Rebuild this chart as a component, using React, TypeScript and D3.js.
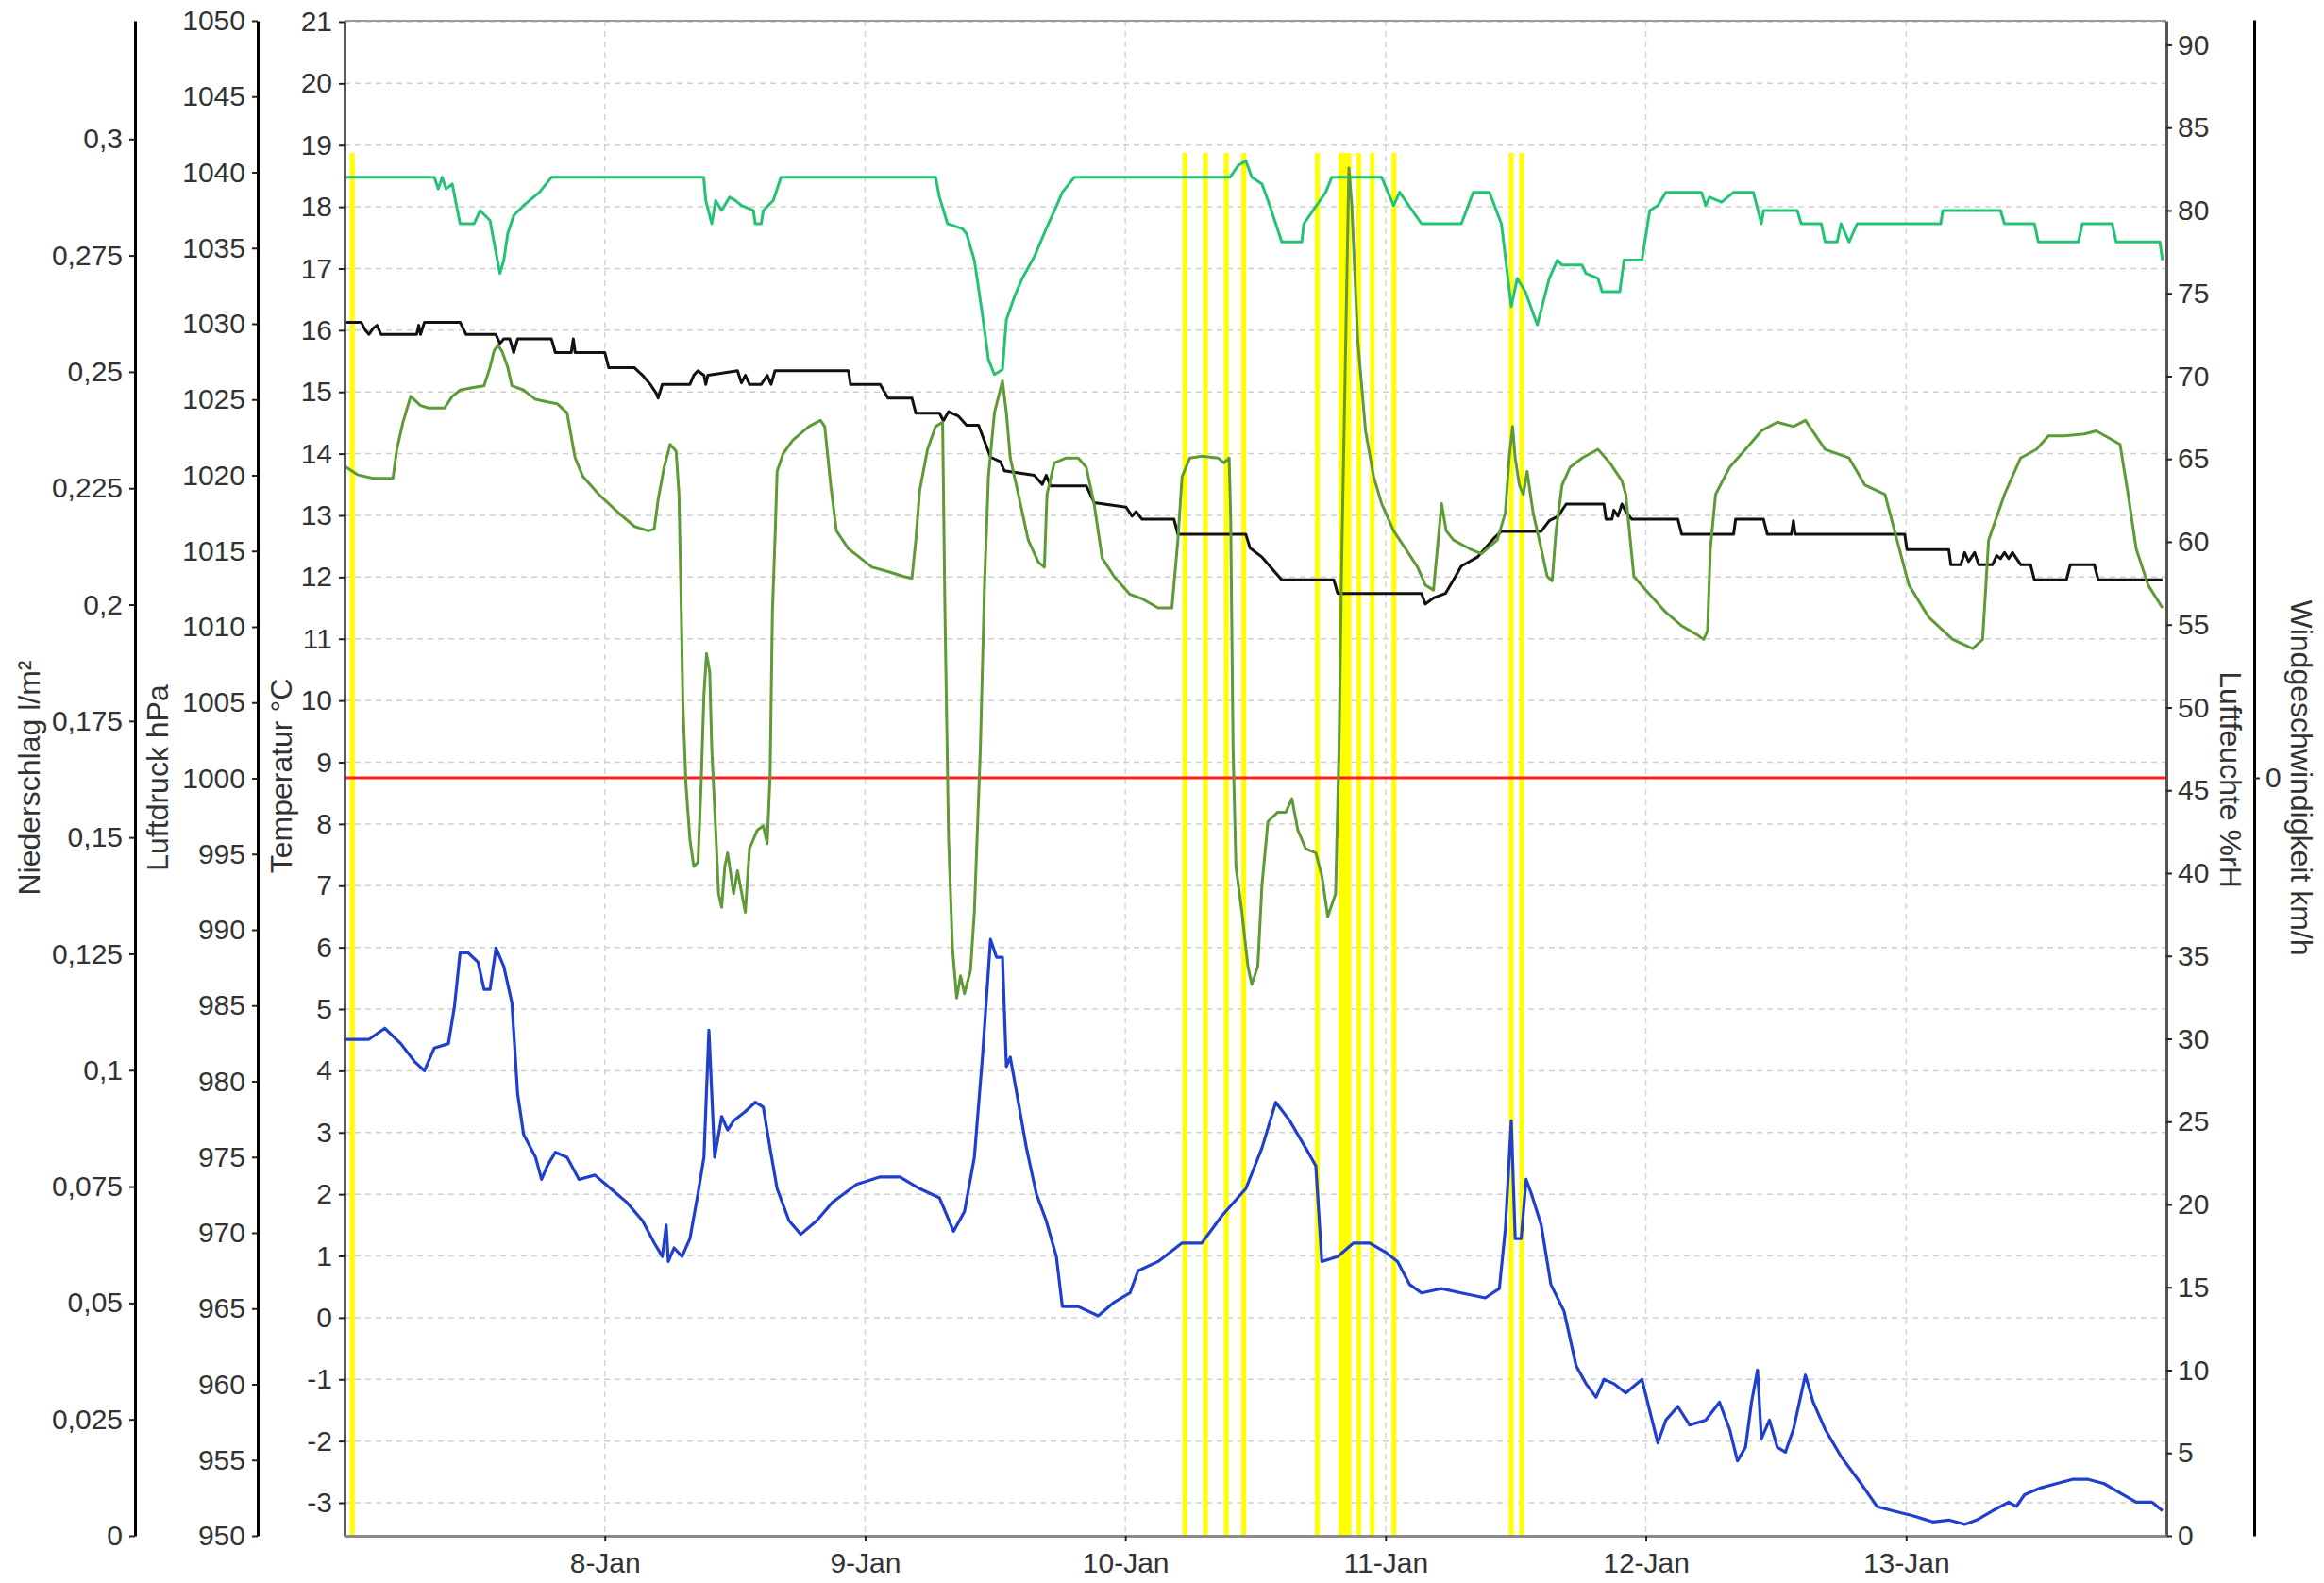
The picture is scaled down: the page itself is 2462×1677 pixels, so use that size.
import * as d3 from "d3";
import { useEffect, useRef } from "react";

// time origin: 7-Jan 00:00, every series is [day offset, value]
const START = new Date(2015, 0, 7).getTime();
const DAY = 86400000;
const SPAN_DAYS = 7;

// Luftfeuchte %rH (light green)
const humidity: [number, number][] = [
  [0, 82], [0.345, 82], [0.36, 81.3], [0.375, 82], [0.39, 81.3], [0.414, 81.6], [0.43, 80.3],
  [0.444, 79.2], [0.498, 79.2], [0.521, 80.0], [0.559, 79.4], [0.574, 78.1], [0.597, 76.2],
  [0.612, 77.0], [0.627, 78.6], [0.65, 79.7], [0.688, 80.3], [0.749, 81.1], [0.795, 82],
  [1.38, 82], [1.388, 80.6], [1.411, 79.2], [1.426, 80.6], [1.449, 80.0], [1.479, 80.8],
  [1.502, 80.6], [1.525, 80.3], [1.571, 80.0], [1.578, 79.2], [1.601, 79.2], [1.609, 80.0],
  [1.647, 80.6], [1.677, 82], [2.271, 82], [2.286, 80.8], [2.317, 79.2], [2.374, 78.9],
  [2.39, 78.6], [2.42, 77.0], [2.451, 73.7], [2.474, 71.0], [2.497, 70.1], [2.528, 70.4],
  [2.543, 73.4], [2.574, 74.8], [2.604, 75.9], [2.65, 77.2], [2.696, 78.9], [2.742, 80.5],
  [2.758, 81.1], [2.804, 82], [3.402, 82], [3.433, 82.7], [3.463, 83.0], [3.486, 82],
  [3.525, 81.6], [3.555, 80.3], [3.601, 78.1], [3.678, 78.1], [3.686, 79.2], [3.77, 81.1],
  [3.793, 82], [3.985, 82], [4.031, 80.3], [4.054, 81.1], [4.138, 79.2], [4.291, 79.2],
  [4.337, 81.1], [4.399, 81.1], [4.445, 79.2], [4.483, 74.2], [4.506, 75.9], [4.537, 75.1],
  [4.583, 73.1], [4.629, 75.9], [4.66, 77.0], [4.678, 76.7], [4.755, 76.7], [4.77, 76.2],
  [4.816, 75.9], [4.832, 75.1], [4.9, 75.1], [4.916, 77.0], [4.985, 77.0], [5.015, 80.0],
  [5.046, 80.3], [5.077, 81.1], [5.214, 81.1], [5.23, 80.3], [5.245, 80.8], [5.291, 80.5],
  [5.337, 81.1], [5.413, 81.1], [5.444, 79.2], [5.452, 80.0], [5.582, 80.0], [5.597, 79.2],
  [5.674, 79.2], [5.689, 78.1], [5.735, 78.1], [5.75, 79.2], [5.781, 78.1], [5.812, 79.2],
  [6.133, 79.2], [6.141, 80.0], [6.363, 80.0], [6.378, 79.2], [6.493, 79.2], [6.508, 78.1],
  [6.662, 78.1], [6.677, 79.2], [6.792, 79.2], [6.807, 78.1], [6.975, 78.1], [6.985, 77.0],
];

// Luftdruck hPa (black)
const pressure: [number, number][] = [
  [0, 1030.1], [0.064, 1030.1], [0.079, 1029.6], [0.094, 1029.3], [0.11, 1029.7], [0.125, 1029.9],
  [0.14, 1029.3], [0.277, 1029.3], [0.285, 1029.9], [0.292, 1029.3], [0.307, 1030.1], [0.444, 1030.1],
  [0.467, 1029.3], [0.581, 1029.3], [0.597, 1028.7], [0.612, 1029.0], [0.635, 1029.0], [0.65, 1028.1],
  [0.665, 1029.0], [0.795, 1029.0], [0.81, 1028.1], [0.871, 1028.1], [0.879, 1029.0], [0.886, 1028.1],
  [1.0, 1028.1], [1.015, 1027.1], [1.114, 1027.1], [1.145, 1026.6], [1.175, 1026.0], [1.198, 1025.4],
  [1.205, 1025.1], [1.221, 1026.0], [1.327, 1026.0], [1.342, 1026.6], [1.358, 1026.9], [1.373, 1026.7],
  [1.381, 1026.6], [1.388, 1026.0], [1.396, 1026.6], [1.51, 1026.9], [1.525, 1026.1], [1.54, 1026.6],
  [1.556, 1026.0], [1.601, 1026.0], [1.624, 1026.6], [1.639, 1026.0], [1.654, 1026.9], [1.936, 1026.9],
  [1.944, 1026.0], [2.058, 1026.0], [2.088, 1025.1], [2.18, 1025.1], [2.195, 1024.1], [2.286, 1024.1],
  [2.301, 1023.6], [2.321, 1024.2], [2.359, 1023.9], [2.39, 1023.3], [2.436, 1023.3], [2.482, 1021.2],
  [2.52, 1020.9], [2.535, 1020.3], [2.65, 1020.0], [2.681, 1019.4], [2.696, 1020.0], [2.712, 1019.3],
  [2.85, 1019.3], [2.88, 1018.2], [3.003, 1017.9], [3.026, 1017.3], [3.041, 1017.6], [3.064, 1017.1],
  [3.187, 1017.1], [3.202, 1016.1], [3.463, 1016.1], [3.479, 1015.2], [3.525, 1014.6], [3.555, 1014.0],
  [3.601, 1013.1], [3.801, 1013.1], [3.816, 1012.2], [4.138, 1012.2], [4.153, 1011.5], [4.184, 1011.9],
  [4.23, 1012.2], [4.261, 1013.1], [4.291, 1014.0], [4.353, 1014.6], [4.414, 1015.8], [4.445, 1016.3],
  [4.598, 1016.3], [4.629, 1017.0], [4.663, 1017.3], [4.694, 1018.1], [4.839, 1018.1], [4.847, 1017.1],
  [4.87, 1017.1], [4.877, 1017.7], [4.893, 1017.3], [4.908, 1018.1], [4.923, 1017.6], [4.946, 1017.1],
  [5.123, 1017.1], [5.138, 1016.1], [5.337, 1016.1], [5.345, 1017.1], [5.452, 1017.1], [5.467, 1016.1],
  [5.559, 1016.1], [5.567, 1017.0], [5.574, 1016.1], [5.995, 1016.1], [6.003, 1015.1], [6.164, 1015.1],
  [6.172, 1014.1], [6.21, 1014.1], [6.225, 1014.9], [6.24, 1014.3], [6.263, 1014.9], [6.279, 1014.1],
  [6.332, 1014.1], [6.348, 1014.7], [6.363, 1014.5], [6.378, 1014.9], [6.394, 1014.5], [6.409, 1014.9],
  [6.44, 1014.1], [6.478, 1014.1], [6.493, 1013.1], [6.616, 1013.1], [6.631, 1014.1], [6.723, 1014.1],
  [6.738, 1013.1], [6.985, 1013.1],
];

// Temperatur °C, inside sensor (olive)
const tempIndoor: [number, number][] = [
  [0, 13.8], [0.049, 13.66], [0.11, 13.6], [0.186, 13.6], [0.201, 14.07], [0.224, 14.5], [0.254, 14.93],
  [0.292, 14.78], [0.323, 14.74], [0.384, 14.74], [0.414, 14.93], [0.444, 15.03], [0.49, 15.07],
  [0.536, 15.1], [0.559, 15.4], [0.574, 15.66], [0.589, 15.76], [0.605, 15.66], [0.627, 15.4],
  [0.643, 15.1], [0.688, 15.03], [0.734, 14.88], [0.779, 14.84], [0.817, 14.81], [0.855, 14.66],
  [0.886, 13.93], [0.916, 13.63], [0.977, 13.34], [1.053, 13.04], [1.114, 12.82], [1.167, 12.75],
  [1.19, 12.78], [1.205, 13.26], [1.228, 13.78], [1.251, 14.15], [1.274, 14.04], [1.285, 13.34],
  [1.294, 11.43], [1.3, 9.96], [1.312, 8.63], [1.327, 7.75], [1.342, 7.31], [1.358, 7.38], [1.37, 8.63],
  [1.381, 10.1], [1.391, 10.76], [1.403, 10.47], [1.411, 9.22], [1.426, 7.9], [1.437, 6.87], [1.449, 6.65],
  [1.461, 7.31], [1.472, 7.53], [1.495, 6.87], [1.51, 7.24], [1.533, 6.72], [1.54, 6.57], [1.556, 7.6],
  [1.586, 7.9], [1.609, 7.97], [1.624, 7.68], [1.635, 8.78], [1.644, 11.43], [1.655, 12.75], [1.662, 13.71],
  [1.685, 14.0], [1.723, 14.22], [1.784, 14.44], [1.829, 14.54], [1.845, 14.44], [1.868, 13.49],
  [1.89, 12.75], [1.936, 12.46], [1.982, 12.31], [2.027, 12.16], [2.088, 12.09], [2.149, 12.01],
  [2.18, 11.98], [2.195, 12.6], [2.21, 13.41], [2.24, 14.07], [2.271, 14.44], [2.298, 14.51],
  [2.307, 11.43], [2.321, 7.75], [2.336, 5.99], [2.352, 5.18], [2.367, 5.54], [2.382, 5.25], [2.405, 5.62],
  [2.42, 6.57], [2.443, 9.22], [2.459, 11.87], [2.474, 13.63], [2.497, 14.66], [2.528, 15.18],
  [2.543, 14.66], [2.558, 13.93], [2.589, 13.34], [2.627, 12.6], [2.666, 12.24], [2.689, 12.16],
  [2.699, 13.34], [2.727, 13.85], [2.773, 13.93], [2.819, 13.93], [2.85, 13.78], [2.88, 13.19],
  [2.911, 12.31], [2.957, 12.01], [3.018, 11.72], [3.064, 11.65], [3.126, 11.5], [3.179, 11.5],
  [3.202, 12.6], [3.218, 13.63], [3.248, 13.93], [3.294, 13.96], [3.356, 13.93], [3.379, 13.85],
  [3.399, 13.93], [3.405, 12.9], [3.414, 9.22], [3.425, 7.31], [3.448, 6.57], [3.471, 5.69], [3.486, 5.4],
  [3.509, 5.69], [3.525, 7.01], [3.548, 8.04], [3.586, 8.19], [3.617, 8.19], [3.64, 8.41], [3.663, 7.9],
  [3.693, 7.6], [3.732, 7.53], [3.755, 7.16], [3.778, 6.5], [3.808, 6.87], [3.821, 9.22], [3.831, 12.16],
  [3.847, 15.84], [3.859, 18.63], [3.87, 18.04], [3.893, 15.84], [3.923, 14.37], [3.954, 13.63],
  [3.985, 13.19], [4.031, 12.75], [4.077, 12.46], [4.123, 12.16], [4.153, 11.87], [4.184, 11.79],
  [4.199, 12.46], [4.215, 13.19], [4.233, 12.75], [4.261, 12.6], [4.322, 12.46], [4.368, 12.38],
  [4.429, 12.6], [4.46, 13.04], [4.475, 13.93], [4.488, 14.44], [4.498, 13.93], [4.514, 13.49],
  [4.529, 13.34], [4.544, 13.71], [4.567, 13.04], [4.598, 12.46], [4.621, 12.01], [4.64, 11.94],
  [4.655, 12.75], [4.678, 13.49], [4.709, 13.78], [4.755, 13.93], [4.816, 14.07], [4.862, 13.85],
  [4.908, 13.56], [4.923, 13.34], [4.954, 12.01], [5.015, 11.72], [5.077, 11.43], [5.138, 11.21],
  [5.199, 11.06], [5.222, 10.99], [5.237, 11.13], [5.248, 12.46], [5.268, 13.34], [5.322, 13.78],
  [5.383, 14.07], [5.444, 14.37], [5.505, 14.51], [5.567, 14.44], [5.613, 14.54], [5.689, 14.07],
  [5.781, 13.93], [5.842, 13.49], [5.919, 13.34], [5.965, 12.6], [6.011, 11.87], [6.087, 11.35],
  [6.179, 10.99], [6.256, 10.84], [6.294, 10.99], [6.317, 12.6], [6.378, 13.34], [6.44, 13.93],
  [6.501, 14.07], [6.547, 14.29], [6.608, 14.29], [6.685, 14.32], [6.731, 14.37], [6.822, 14.15],
  [6.853, 13.34], [6.884, 12.46], [6.93, 11.87], [6.985, 11.5],
];

// Temperatur °C, outside sensor (blue)
const tempOutdoor: [number, number][] = [
  [0, 4.51], [0.094, 4.51], [0.155, 4.69], [0.216, 4.44], [0.269, 4.15], [0.307, 4.0], [0.345, 4.37],
  [0.399, 4.44], [0.422, 5.03], [0.444, 5.91], [0.475, 5.91], [0.513, 5.76], [0.536, 5.32], [0.559, 5.32],
  [0.582, 5.99], [0.612, 5.69], [0.643, 5.1], [0.665, 3.63], [0.688, 2.97], [0.734, 2.6], [0.757, 2.24],
  [0.779, 2.46], [0.81, 2.68], [0.855, 2.6], [0.901, 2.24], [0.962, 2.31], [1.023, 2.09], [1.084, 1.87],
  [1.145, 1.57], [1.19, 1.21], [1.221, 0.99], [1.236, 1.5], [1.244, 0.91], [1.266, 1.13], [1.297, 0.99],
  [1.327, 1.28], [1.358, 2.01], [1.381, 2.6], [1.4, 4.66], [1.411, 3.63], [1.422, 2.6], [1.449, 3.26],
  [1.472, 3.04], [1.495, 3.19], [1.54, 3.34], [1.578, 3.49], [1.609, 3.41], [1.632, 2.82], [1.662, 2.09],
  [1.708, 1.57], [1.753, 1.35], [1.814, 1.57], [1.875, 1.87], [1.967, 2.16], [2.058, 2.28], [2.134, 2.28],
  [2.21, 2.09], [2.286, 1.94], [2.34, 1.4], [2.382, 1.72], [2.42, 2.6], [2.451, 4.22], [2.482, 6.13],
  [2.505, 5.84], [2.528, 5.84], [2.543, 4.07], [2.558, 4.22], [2.589, 3.49], [2.62, 2.75], [2.658, 2.01],
  [2.696, 1.57], [2.735, 0.99], [2.758, 0.18], [2.819, 0.18], [2.896, 0.03], [2.957, 0.25], [3.018, 0.4],
  [3.049, 0.76], [3.126, 0.91], [3.218, 1.21], [3.294, 1.21], [3.371, 1.65], [3.463, 2.09], [3.525, 2.75],
  [3.578, 3.49], [3.632, 3.19], [3.693, 2.75], [3.732, 2.46], [3.755, 0.91], [3.816, 0.99], [3.877, 1.21],
  [3.939, 1.21], [4.0, 1.06], [4.046, 0.91], [4.092, 0.54], [4.138, 0.4], [4.215, 0.47], [4.291, 0.4],
  [4.383, 0.32], [4.437, 0.47], [4.46, 1.43], [4.483, 3.19], [4.498, 1.28], [4.521, 1.28], [4.54, 2.24],
  [4.56, 2.01], [4.598, 1.5], [4.635, 0.54], [4.686, 0.1], [4.732, -0.78], [4.77, -1.07], [4.809, -1.29],
  [4.839, -1.0], [4.877, -1.07], [4.923, -1.22], [4.985, -1.0], [5.015, -1.51], [5.046, -2.03],
  [5.077, -1.66], [5.123, -1.44], [5.168, -1.74], [5.23, -1.66], [5.283, -1.37], [5.322, -1.81],
  [5.352, -2.32], [5.383, -2.1], [5.406, -1.37], [5.429, -0.85], [5.444, -1.96], [5.475, -1.66],
  [5.505, -2.1], [5.536, -2.18], [5.567, -1.81], [5.613, -0.93], [5.643, -1.37], [5.689, -1.81],
  [5.75, -2.25], [5.827, -2.69], [5.888, -3.06], [5.949, -3.13], [6.026, -3.21], [6.103, -3.31],
  [6.164, -3.28], [6.225, -3.35], [6.271, -3.28], [6.332, -3.13], [6.394, -2.99], [6.424, -3.06],
  [6.455, -2.87], [6.516, -2.76], [6.577, -2.69], [6.639, -2.62], [6.7, -2.62], [6.761, -2.69],
  [6.822, -2.84], [6.884, -2.99], [6.945, -2.99], [6.985, -3.13],
];

// Windgeschwindigkeit km/h (red, flat)
const wind: [number, number][] = [[0, 0], [7, 0]];

// Niederschlag l/m² events (yellow impulses)
const rainEvents = [0.03, 3.229, 3.308, 3.388, 3.455, 3.738, 3.828, 3.844, 3.859, 3.897, 3.949, 4.032, 4.483, 4.523];
const rainAmount = 0.297;

// axis ticks
const precipTicks = [0, 0.025, 0.05, 0.075, 0.1, 0.125, 0.15, 0.175, 0.2, 0.225, 0.25, 0.275, 0.3];
const pressureTicks = [950, 955, 960, 965, 970, 975, 980, 985, 990, 995, 1000, 1005, 1010, 1015, 1020, 1025, 1030, 1035, 1040, 1045, 1050];
const tempTicks = [-3, -2, -1, 0, 1, 2, 3, 4, 5, 6, 7, 8, 9, 10, 11, 12, 13, 14, 15, 16, 17, 18, 19, 20, 21];
const humidityTicks = [0, 5, 10, 15, 20, 25, 30, 35, 40, 45, 50, 55, 60, 65, 70, 75, 80, 85, 90];
const windTicks = [0];
const dayTicks = [1, 2, 3, 4, 5, 6];

const W = 2462;
const H = 1677;
const FONT = "'Liberation Sans', Arial, sans-serif";

export default function App() {
  const svgRef = useRef<SVGSVGElement>(null);

  useEffect(() => {
    document.body.style.margin = "0";
    if (!svgRef.current) return;
    const svg = d3.select(svgRef.current);
    svg.selectAll("*").remove();

    const plot = { left: 365, right: 2295, top: 22, bottom: 1627 };
    const toDate = (d: number) => new Date(START + d * DAY);

    const x = d3
      .scaleTime()
      .domain([toDate(0), toDate(SPAN_DAYS)])
      .range([plot.left, plot.right]);
    const yTemp = d3.scaleLinear().domain([-3.535, 21.015]).range([plot.bottom, plot.top]);
    const yHum = d3.scaleLinear().domain([0, 91.45]).range([plot.bottom, plot.top]);
    const yPres = d3.scaleLinear().domain([950, 1050]).range([plot.bottom, plot.top]);
    const yPrec = d3.scaleLinear().domain([0, 0.3254]).range([plot.bottom, plot.top]);
    const yWind = d3.scaleLinear().domain([-1, 1]).range([plot.bottom, 21]);

    svg.append("rect").attr("width", W).attr("height", H).attr("fill", "white");

    // Grid lines
    const grid = svg.append("g");
    grid
      .selectAll("line.h")
      .data(tempTicks)
      .enter()
      .append("line")
      .attr("x1", plot.left)
      .attr("x2", plot.right)
      .attr("y1", (d) => yTemp(d))
      .attr("y2", (d) => yTemp(d))
      .style("stroke", "#cfcfcf")
      .style("stroke-width", 1.5)
      .style("stroke-dasharray", "6,5");
    grid
      .selectAll("line.v")
      .data(dayTicks)
      .enter()
      .append("line")
      .attr("x1", (d) => x(toDate(d)))
      .attr("x2", (d) => x(toDate(d)))
      .attr("y1", plot.top)
      .attr("y2", plot.bottom)
      .style("stroke", "#d6d6d6")
      .style("stroke-width", 1.5)
      .style("stroke-dasharray", "6,5");

    svg
      .append("clipPath")
      .attr("id", "plot-clip")
      .append("rect")
      .attr("x", plot.left)
      .attr("y", plot.top)
      .attr("width", plot.right - plot.left)
      .attr("height", plot.bottom - plot.top);

    const g = svg.append("g").attr("clip-path", "url(#plot-clip)");

    // Rain impulses
    g.selectAll("line.rain")
      .data(rainEvents)
      .enter()
      .append("line")
      .attr("x1", (d) => x(toDate(d)))
      .attr("x2", (d) => x(toDate(d)))
      .attr("y1", yPrec(0))
      .attr("y2", yPrec(rainAmount))
      .style("stroke", "#ffff00")
      .style("stroke-width", 5);

    const series = [
      { data: wind, y: yWind, color: "#ff1f1f", width: 3 },
      { data: pressure, y: yPres, color: "#111111", width: 3 },
      { data: humidity, y: yHum, color: "#22c473", width: 3 },
      { data: tempIndoor, y: yTemp, color: "#5e9a35", width: 3 },
      { data: tempOutdoor, y: yTemp, color: "#1f3fcf", width: 3.2 },
    ];

    series.forEach((s) => {
      const line = d3
        .line<[number, number]>()
        .x((d) => x(toDate(d[0])))
        .y((d) => s.y(d[1]));
      g.append("path")
        .datum(s.data)
        .attr("d", line)
        .style("fill", "none")
        .style("stroke", s.color)
        .style("stroke-width", s.width)
        .style("stroke-linejoin", "round");
    });

    // Plot frame (top)
    svg
      .append("line")
      .attr("x1", plot.left)
      .attr("x2", plot.right)
      .attr("y1", plot.top)
      .attr("y2", plot.top)
      .style("stroke", "#9a9a9a")
      .style("stroke-width", 2);

    const styleAxis = (sel: d3.Selection<SVGGElement, unknown, null, undefined>, color = "#000") => {
      sel.select(".domain").style("stroke", color).style("stroke-width", 3);
      sel.selectAll(".tick line").style("stroke", "#222").style("stroke-width", 2);
      sel
        .selectAll(".tick text")
        .style("font-family", FONT)
        .style("font-size", "30px")
        .style("fill", "#333");
    };

    const comma = (v: d3.NumberValue) => String(v).replace(".", ",");
    const plain = (v: d3.NumberValue) => String(v);

    // Niederschlag axis
    const precipAxis = svg
      .append("g")
      .attr("transform", "translate(143,0)")
      .call(
        d3.axisLeft(yPrec).tickValues(precipTicks).tickFormat(comma).tickSize(6).tickSizeOuter(0).tickPadding(7),
      );
    styleAxis(precipAxis);

    // Luftdruck axis
    const pressAxis = svg
      .append("g")
      .attr("transform", "translate(273,0)")
      .call(
        d3.axisLeft(yPres).tickValues(pressureTicks).tickFormat(plain).tickSize(6).tickSizeOuter(0).tickPadding(7),
      );
    styleAxis(pressAxis);

    // Temperatur axis (left plot edge)
    const tempAxis = svg
      .append("g")
      .attr("transform", `translate(${plot.left},0)`)
      .call(
        d3.axisLeft(yTemp).tickValues(tempTicks).tickFormat(plain).tickSize(6).tickSizeOuter(0).tickPadding(7),
      );
    styleAxis(tempAxis, "#555");

    // Luftfeuchte axis (right plot edge)
    const humAxis = svg
      .append("g")
      .attr("transform", `translate(${plot.right},0)`)
      .call(
        d3.axisRight(yHum).tickValues(humidityTicks).tickFormat(plain).tickSize(6).tickSizeOuter(0).tickPadding(6),
      );
    styleAxis(humAxis, "#555");

    // Windgeschwindigkeit axis
    const windAxis = svg
      .append("g")
      .attr("transform", "translate(2388,0)")
      .call(
        d3.axisRight(yWind).tickValues(windTicks).tickFormat(plain).tickSize(6).tickSizeOuter(0).tickPadding(6),
      );
    styleAxis(windAxis);

    // Time axis
    const timeAxis = svg
      .append("g")
      .attr("transform", `translate(0,${plot.bottom})`)
      .call(
        d3
          .axisBottom(x)
          .tickValues(dayTicks.map(toDate))
          .tickFormat((d) => d3.timeFormat("%-d-%b")(d as Date))
          .tickSize(6)
          .tickSizeOuter(0)
          .tickPadding(12),
      );
    styleAxis(timeAxis, "#8a8a8a");

    // Axis titles
    const titles = [
      { text: "Niederschlag l/m²", x: 42, y: 824, rot: -90 },
      { text: "Luftdruck hPa", x: 178, y: 824, rot: -90 },
      { text: "Temperatur °C", x: 309, y: 822, rot: -90 },
      { text: "Luftfeuchte %rH", x: 2352, y: 826, rot: 90 },
      { text: "Windgeschwindigkeit km/h", x: 2427, y: 824, rot: 90 },
    ];
    titles.forEach((t) => {
      svg
        .append("text")
        .attr("transform", `translate(${t.x},${t.y}) rotate(${t.rot})`)
        .attr("text-anchor", "middle")
        .style("font-family", FONT)
        .style("font-size", "32px")
        .style("fill", "#333")
        .text(t.text);
    });
  }, []);

  return <svg ref={svgRef} width={W} height={H} style={{ display: "block" }} />;
}
